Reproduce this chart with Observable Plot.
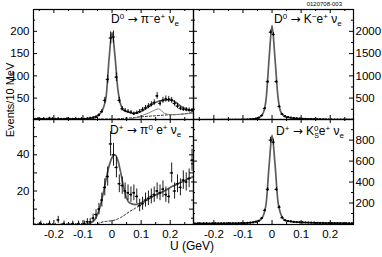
<!DOCTYPE html>
<html><head><meta charset="utf-8">
<script src="https://cdn.jsdelivr.net/npm/d3@7"></script>
<script src="https://cdn.jsdelivr.net/npm/@observablehq/plot@0.6"></script>
<style>
html,body{margin:0;padding:0;background:#fff;}
#c{position:relative;width:382px;height:257px;overflow:hidden;font-family:"Liberation Sans",Arial,sans-serif;background:#fff;}
</style></head><body><div id="c"></div>
<script>
// bin centres (10 MeV bins), GeV
const binX = [-0.265,-0.255,-0.245,-0.235,-0.225,-0.215,-0.205,-0.195,-0.185,-0.175,-0.165,-0.155,-0.145,-0.135,-0.125,-0.115,-0.105,-0.095,-0.085,-0.075,-0.065,-0.055,-0.045,-0.035,-0.025,-0.015,-0.005,0.005,0.015,0.025,0.035,0.045,0.055,0.065,0.075,0.085,0.095,0.105,0.115,0.125,0.135,0.145,0.155,0.165,0.175,0.185,0.195,0.205,0.215,0.225,0.235,0.245,0.255,0.265,0.275];

// D0 -> pi- e+ nu
const piENu = [3,4,3,4,3,5,4,3,4,3,3,4,3,3,4,3,4,3,4,5,6,
  8,12,20,45,92,185,187,97,45,26,22,20,18,15,17,20,24,28,32,36,40,55,38,45,48,47,45,38,32,27,25,24,23,22];
// D0 -> K- e+ nu
const kENu = [10,12,9,11,10,12,10,11,13,12,11,13,14,12,15,14,16,18,20,
  24,30,40,60,110,270,870,1980,1930,870,310,140,90,70,60,50,45,40,35,
  32,30,28,27,25,24,22,21,20,20,19,18,18,17,17,16,16];
// D+ -> pi0 e+ nu
const pi0ENu = [1,1,2,1,1,2,1,1,4,1,2,1,1,2,1,2,1,
  2,3,3,5,7,10,15,22,28,46,40,33,24,23,20,19,18,19,17,12,13,15,16,17,18,20,19,21,18,17,30,20,24,22,26,25,27,37];
// D+ -> K0S e+ nu
const k0ENu = [4,5,4,6,5,4,5,6,5,5,6,5,6,7,6,7,8,9,
  10,12,15,22,30,55,130,330,800,780,330,160,60,35,28,24,20,18,16,15,
  14,13,12,12,11,10,10,9,9,8,8,8,7,7,7,6,6];

// fit curves, sampled at curveX
const curveX = [-0.27,-0.2,-0.1,-0.08,-0.06,-0.05,-0.04,-0.03,-0.02,-0.01,0,0.01,0.02,0.03,0.04,0.05,0.06,0.08,0.1,0.12,0.14,0.16,0.18,0.2,0.22,0.24,0.26,0.28];
const piFit  = [3,3,3.5,4,7,10,16,28,55,140,197,145,70,35,24,20,18,16,20,28,37,43,45,47,40,30,25,23];
const piComp = [0,0,0,0,0,0,0,0,0,0,0,0,0,0,0.5,1.5,3,6,10,15,21,26,16,13,13,14,15,16];
const piBkg  = [2,2,2.5,2.5,3,3,3,3,3,3,3,3,3.5,4,4.5,5,5.5,6.5,8,9,10,11,12,12.5,13,14,16,18];
const kFit   = [10,14,18,22,35,50,80,170,500,1400,2130,1400,550,190,110,80,65,48,38,31,27,24,21,20,18,17,16,16];
const pi0Fit = [1,1,1.2,2,4,7,12,19,27,34,38.5,40,37,30,22,16,13.5,12.5,13.5,15,17,18.5,20,22,23.5,25,26.5,28];
const pi0Bkg = [1,1,1,1.2,1.5,2,2.5,3,3.2,3.4,3.6,4,4.6,5.4,6.4,7.5,8.6,10.5,12.5,15,17,18.5,20,22,23.5,25,26.5,28];
const k0Fit  = [4,5,8,11,17,25,40,80,200,560,845,580,220,95,45,30,25,19,16,13,11,10,9,8,8,7,6,6];

const xLabelTicks = [-0.2,-0.1,0,0.1,0.2];
const xMinorTicks = [-0.25,-0.15,-0.05,0.05,0.15,0.25];

const root = document.getElementById("c");

function panel(o) {
  const {counts, fit, comp, bkg, yDomain, yLabels, yMajor, yMinor, side, showX, left, top, w, h} = o;
  const data = binX.map((x, i) => ({x, v: counts[i], e: Math.sqrt(Math.max(counts[i], 1))}));
  const line = arr => curveX.map((x, i) => ({x, v: arr[i]}));
  const marks = [];
  if (bkg) marks.push(Plot.line(line(bkg), {x: "x", y: "v", stroke: "#222", strokeWidth: 1, strokeDasharray: "2,2", curve: "monotone-x", clip: true}));
  if (comp) marks.push(Plot.line(line(comp), {x: "x", y: "v", stroke: "#777", strokeWidth: 0.9, curve: "monotone-x", clip: true}));
  marks.push(
    Plot.line(line(fit), {x: "x", y: "v", stroke: "#5c5c5c", strokeWidth: 1.7, curve: "monotone-x", clip: true}),
    Plot.ruleX(data, {x: "x", y1: d => d.v - d.e, y2: d => d.v + d.e, stroke: "black", strokeWidth: 0.9, clip: true}),
    Plot.ruleY(data, {y: "v", x1: d => d.x - 0.005, x2: d => d.x + 0.005, stroke: "black", strokeWidth: 0.9, clip: true}),
    Plot.dot(data, {x: "x", y: "v", r: 1.1, fill: "black", clip: true}),
    // inward ticks on all four sides
    Plot.tickX(xLabelTicks, {x: d => d, insetTop: h - 4, stroke: "black"}),
    Plot.tickX(xLabelTicks, {x: d => d, insetBottom: h - 4, stroke: "black"}),
    Plot.tickX(xMinorTicks, {x: d => d, insetTop: h - 2, stroke: "black"}),
    Plot.tickX(xMinorTicks, {x: d => d, insetBottom: h - 2, stroke: "black"}),
    Plot.tickY(yMajor, {y: d => d, insetRight: w - 4, stroke: "black"}),
    Plot.tickY(yMajor, {y: d => d, insetLeft: w - 4, stroke: "black"}),
    Plot.tickY(yMinor, {y: d => d, insetRight: w - 2, stroke: "black"}),
    Plot.tickY(yMinor, {y: d => d, insetLeft: w - 2, stroke: "black"}),
    Plot.frame({stroke: "black", strokeWidth: 1.2}),
    Plot.text(yLabels, {y: d => d, text: d => String(d), frameAnchor: side, textAnchor: side === "left" ? "end" : "start", dx: side === "left" ? -4 : 2, fontSize: 11.5, fill: "black"})
  );
  if (showX) marks.push(Plot.text(xLabelTicks, {x: d => d, text: d => String(d), frameAnchor: "bottom", lineAnchor: "top", dy: 5, fontSize: 11.5, fill: "black"}));
  const svg = Plot.plot({
    width: w, height: h, margin: 0,
    x: {domain: [-0.27, 0.28], axis: null},
    y: {domain: yDomain, axis: null},
    style: {background: "transparent", overflow: "visible", position: "absolute", left: left + "px", top: top + "px", fontFamily: '"Liberation Sans", Arial, sans-serif'},
    marks
  });
  root.appendChild(svg);
}

panel({counts: piENu, fit: piFit, comp: piComp, bkg: piBkg, yDomain: [2, 249], yLabels: [50,100,150,200], yMajor: [50,100,150,200], yMinor: [25,75,125,175,225], side: "left", showX: false, left: 33, top: 9, w: 160, h: 110});
panel({counts: kENu, fit: kFit, yDomain: [20, 2490], yLabels: [500,1000,1500,2000], yMajor: [500,1000,1500,2000], yMinor: [250,750,1250,1750,2250], side: "right", showX: false, left: 193, top: 9, w: 160, h: 110});
panel({counts: pi0ENu, fit: pi0Fit, bkg: pi0Bkg, yDomain: [1.5, 59.5], yLabels: [20,40], yMajor: [10,20,30,40,50], yMinor: [5,15,25,35,45,55], side: "left", showX: true, left: 33, top: 119, w: 160, h: 105});
panel({counts: k0ENu, fit: k0Fit, yDomain: [-5, 997], yLabels: [200,400,600,800], yMajor: [200,400,600,800], yMinor: [100,300,500,700,900], side: "right", showX: true, left: 193, top: 119, w: 160, h: 105});

// text overlay
const ov = d3.select(root).append("svg")
  .attr("width", 382).attr("height", 257)
  .style("position", "absolute").style("left", "0px").style("top", "0px")
  .style("pointer-events", "none")
  .attr("font-family", '"Liberation Sans", Arial, sans-serif');

function rich(x, y, parts, size) {
  const t = ov.append("text").attr("x", x).attr("y", y).attr("font-size", size).attr("fill", "black");
  for (const p of parts) {
    const ts = t.append("tspan").text(p.t);
    if (p.dy) ts.attr("dy", p.dy);
    if (p.dx) ts.attr("dx", p.dx);
    if (p.fs) ts.attr("font-size", p.fs);
    if (p.ff) ts.attr("font-family", p.ff);
  }
}
const up = -4.5, dn = 4.5, AR = '"DejaVu Sans", sans-serif';
rich(111, 23, [{t:"D"},{t:"0",fs:8,dy:up},{t:" ",dy:dn},{t:"→",ff:AR},{t:" π"},{t:"−",fs:8,dy:up},{t:"e",dy:dn},{t:"+",fs:8,dy:up},{t:" ν",dy:dn},{t:"e",fs:8,dy:2.5}], 12);
rich(274, 23, [{t:"D"},{t:"0",fs:8,dy:up},{t:" ",dy:dn},{t:"→",ff:AR},{t:" K"},{t:"−",fs:8,dy:up},{t:"e",dy:dn},{t:"+",fs:8,dy:up},{t:" ν",dy:dn},{t:"e",fs:8,dy:2.5}], 12);
rich(110, 134, [{t:"D"},{t:"+",fs:8,dy:up},{t:" ",dy:dn},{t:"→",ff:AR},{t:" π"},{t:"0",fs:8,dy:up},{t:" e",dy:dn},{t:"+",fs:8,dy:up},{t:" ν",dy:dn},{t:"e",fs:8,dy:2.5}], 12);
rich(276, 135, [{t:"D"},{t:"+",fs:8,dy:up},{t:" ",dy:dn},{t:"→",ff:AR},{t:" K"},{t:"0",fs:8,dy:up},{t:"S",fs:7,dy:7,dx:-4.4},{t:"e",dy:-2.5},{t:"+",fs:8,dy:up},{t:" ν",dy:dn},{t:"e",fs:8,dy:2.5}], 12);

ov.append("text").attr("x", 342).attr("y", 6).attr("text-anchor", "end").attr("font-size", 6).text("0120708-003");
ov.append("text").attr("transform", "translate(14,100) rotate(-90)").attr("text-anchor", "middle").attr("font-size", 11).text("Events/10 MeV");
ov.append("text").attr("x", 192).attr("y", 250).attr("text-anchor", "middle").attr("font-size", 12).text("U (GeV)");
</script>
</body></html>
